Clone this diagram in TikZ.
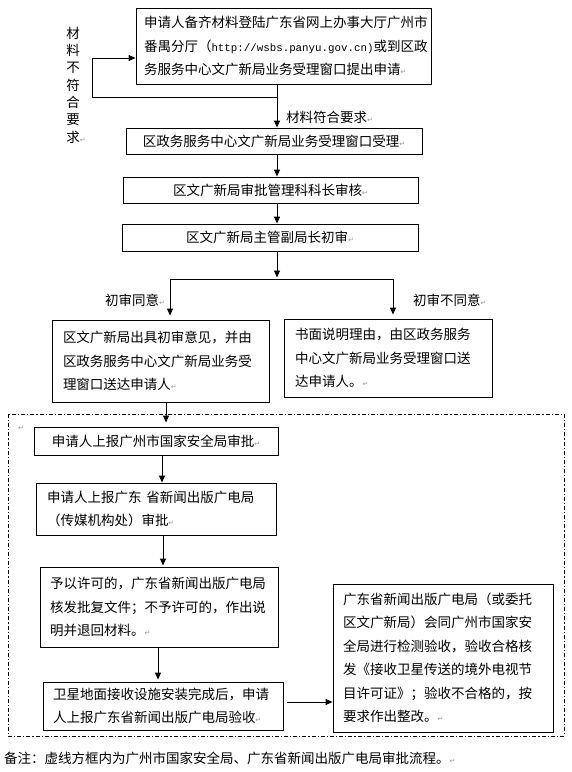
\documentclass[tikz,border=0pt]{standalone}
\usepackage{fontspec}
\setmainfont{Noto Sans CJK SC}
\newfontfamily\urlf{Liberation Mono}
\newfontfamily\dvf{DejaVu Sans}
\usetikzlibrary{arrows.meta}
\newcommand\fsz{\fontsize{13.5pt}{23.5pt}\selectfont}
\newcommand\retmark{{\dvf\fontsize{7pt}{7pt}\selectfont\color{gray!80}↵}}
\tikzset{
  box/.style={draw, line width=0.9pt, inner ysep=0pt, font=\fsz},
  sbox/.style={box, inner xsep=0pt, align=center},
  mbox/.style={box, align=left},
  arr/.style={draw, line width=0.9pt, -{Triangle[length=7pt,width=6pt]}},
  ln/.style={draw, line width=0.9pt},
  lbl/.style={font=\fsz, inner sep=0pt},
  grp/.style={draw, line width=0.8pt, dash pattern=on 4pt off 2pt on 1.2pt off 2pt},
}
\begin{document}
\begin{tikzpicture}[x=1pt, y=-1pt]
\useasboundingbox (0,0) rectangle (572,772);

% top boxes
\node[mbox, minimum height=76pt, text width=279pt, inner xsep=8pt] (b1) at (283.5,46)
 {申请人备齐材料登陆广东省网上办事大厅广州市\\番禺分厅（{\urlf\fontsize{10.8pt}{23.5pt}\selectfont http://wsbs.panyu.gov.cn)}或到区政\\务服务中心文广新局业务受理窗口提出申请\retmark};
\node[sbox, minimum width=296pt, minimum height=26pt] (b2) at (274,141) {区政务服务中心文广新局业务受理窗口受理\retmark};
\node[sbox, minimum width=295pt, minimum height=26pt] (b3) at (270.5,190) {区文广新局审批管理科科长审核\retmark};
\node[sbox, minimum width=296pt, minimum height=27pt] (b4) at (270,237.5) {区文广新局主管副局长初审\retmark};

\node[mbox, minimum height=82pt, text width=195pt, inner xsep=11pt] (b5) at (160.5,361)
 {区文广新局出具初审意见，并由\\区政务服务中心文广新局业务受\\理窗口送达申请人\retmark};
\node[mbox, minimum height=78pt, text width=186pt, inner xsep=11pt] (b6) at (388,358)
 {书面说明理由，由区政务服务\\中心文广新局业务受理窗口送\\达申请人。\retmark};

% dashed group
\draw[grp] (8,414) rectangle (564,736);
\node[inner sep=0pt] (pm) at (21,428) {\retmark};

\node[sbox, minimum width=244pt, minimum height=28pt] (b7) at (156,441) {申请人上报广州市国家安全局审批\retmark};
\node[mbox, minimum height=52pt, text width=218pt, inner xsep=11pt] (b8) at (156,509)
 {申请人上报广东\hspace{5pt}省新闻出版广电局\\（传媒机构处）审批\retmark};
\node[mbox, minimum height=80pt, text width=218pt, inner xsep=10pt] (b9) at (159,607)
 {予以许可的，广东省新闻出版广电局\\核发批复文件；不予许可的，作出说\\明并退回材料。\retmark};
\node[mbox, minimum height=48pt, text width=220pt, inner xsep=10pt] (b10) at (163,706)
 {卫星地面接收设施安装完成后，申请\\人上报广东省新闻出版广电局验收\retmark};
\node[mbox, minimum height=148pt, text width=200pt, inner xsep=10pt] (b11) at (443,658)
 {广东省新闻出版广电局（或委托\\区文广新局）会同广州市国家安\\全局进行检测验收，验收合格核\\发《接收卫星传送的境外电视节\\目许可证》；验收不合格的，按\\要求作出整改。\retmark};

% labels
\node[lbl, align=center, font=\fontsize{13.5pt}{17.3pt}\selectfont] (nl) at (73,85)
 {材\\料\\不\\符\\合\\要\\求\rlap{\retmark}};
\node[lbl, anchor=west] (ok) at (286,117) {材料符合要求\retmark};
\node[lbl, anchor=west] (ag) at (105,300) {初审同意\retmark};
\node[lbl, anchor=west] (dis) at (413,300) {初审不同意\retmark};
\node[lbl, anchor=west] (note) at (4,758) {备注：虚线方框内为广州市国家安全局、广东省新闻出版广电局审批流程。\retmark};

% connectors
\coordinate (jx) at (277,0);
\coordinate (lp) at (92,97);
\coordinate (lq) at (92,58);
\draw[arr] (b1.south -| jx) -- (b2.north -| jx);
\draw[arr] (lp -| jx) -- (lp) -- (lq) -- (lq -| b1.west);
\draw[arr] (b2.south -| jx) -- (b3.north -| jx);
\draw[arr] (b3.south -| jx) -- (b4.north -| jx);
\coordinate (fk) at (277,279);
\coordinate (fl) at (170,279);
\coordinate (fr) at (393,279);
\draw[arr, shorten >=1.5pt] (b4.south -| jx) -- (fk);
\draw[ln] (fl) -- (fr);
\draw[arr, shorten >=4pt] (fl) -- (b5.north -| fl);
\draw[arr, shorten >=4pt] (fr) -- (b6.north -| fr);

\coordinate (x1) at (166,0);
\coordinate (x2) at (162,0);
\coordinate (x3) at (163,0);
\coordinate (x4) at (158,0);
\draw[arr, shorten >=4pt] (b5.south -| x1) -- (b7.north -| x1);
\draw[arr] (b7.south -| x2) -- (b8.north -| x2);
\draw[arr, shorten >=1pt] (b8.south -| x3) -- (b9.north -| x3);
\draw[arr, shorten >=2pt] (b9.south -| x4) -- (b10.north -| x4);
\coordinate (hy) at (0,702);
\draw[arr, shorten <=4pt] (b10.east |- hy) -- (b11.west |- hy);
\end{tikzpicture}
\end{document}
